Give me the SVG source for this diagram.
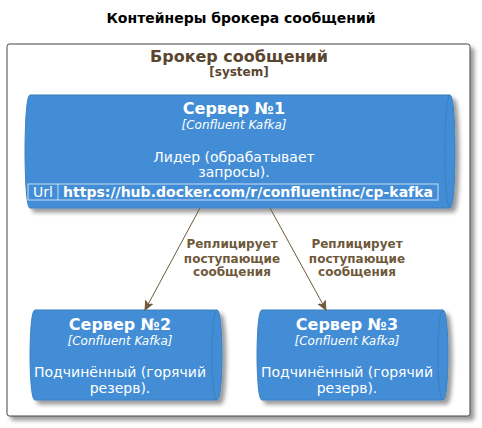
<svg xmlns="http://www.w3.org/2000/svg" width="482" height="428" viewBox="0 0 482 428">
<defs>
<filter id="sh" x="-10%" y="-10%" width="130%" height="130%">
<feGaussianBlur in="SourceAlpha" stdDeviation="2"/>
<feOffset dx="4" dy="4" result="b"/>
<feComponentTransfer><feFuncA type="linear" slope="0.4"/></feComponentTransfer>
<feMerge><feMergeNode/><feMergeNode in="SourceGraphic"/></feMerge>
</filter>
<marker id="ah" markerWidth="10" markerHeight="10" refX="9" refY="5" orient="auto" markerUnits="userSpaceOnUse">
<path d="M0,1 L9,5 L0,9 L3,5 Z" fill="#6e5a3a" stroke="#6e5a3a" stroke-width="1"/>
</marker>
<style>
text{font-family:"DejaVu Sans","Liberation Sans",sans-serif}
.q{fill:#438DD5;stroke:#3C7FC0;stroke-width:1}
.qi{fill:none;stroke:#3C7FC0;stroke-width:1}
.nt{fill:#FFFFFF;font-weight:bold;font-size:16px;text-anchor:middle}
.tt{fill:#FFFFFF;font-style:italic;font-size:12px;text-anchor:middle}
.dt{fill:#FFFFFF;font-size:14px;text-anchor:middle}
.lbl{fill:#6e5a3a;font-weight:bold;font-size:12px;text-anchor:middle}
.conn{stroke:#6e5a3a;stroke-width:1;fill:none}
</style>
</defs>
<rect width="482" height="428" fill="#FFFFFF"/>
<text x="241" y="23" font-size="14" font-weight="bold" text-anchor="middle" fill="#000000">Контейнеры брокера сообщений</text>
<g id="system">
<rect x="7" y="44" width="463" height="372" rx="2.5" ry="2.5" fill="#FFFFFF" stroke="#444444" stroke-width="1" filter="url(#sh)"/>
<text x="239" y="62" font-size="16" font-weight="bold" text-anchor="middle" fill="#5a4630">Брокер сообщений</text>
<text x="239" y="76" font-size="12" font-weight="bold" text-anchor="middle" fill="#5a4630">[system]</text>
</g>
<g id="server1">
<path class="q" filter="url(#sh)" d="M30,95 L450,95 C455,95 455,151.5 455,151.5 C455,151.5 455,208 450,208 L30,208 C25,208 25,151.5 25,151.5 C25,151.5 25,95 30,95 Z"/>
<path class="qi" d="M450,95 C445,95 445,151.5 445,151.5 C445,208 450,208 450,208"/>
<text class="nt" x="234" y="114">Сервер №1</text>
<text class="tt" x="234" y="129">[Confluent Kafka]</text>
<text class="dt" x="234" y="162">Лидер (обрабатывает</text>
<text class="dt" x="234" y="177">запросы).</text>
<rect x="28" y="184" width="410" height="16" fill="none" stroke="#FFFFFF" stroke-opacity="0.7" stroke-width="1"/>
<line x1="58" y1="184" x2="58" y2="200" stroke="#FFFFFF" stroke-opacity="0.7" stroke-width="1"/>
<text x="43" y="197" font-size="14" text-anchor="middle" fill="#FFFFFF">Url</text>
<text x="248" y="197" font-size="14" font-weight="bold" text-anchor="middle" fill="#FFFFFF" textLength="370" lengthAdjust="spacingAndGlyphs">https://hub.docker.com/r/confluentinc/cp-kafka</text>
</g>
<g id="server2">
<path class="q" filter="url(#sh)" d="M35,310 L217,310 C222,310 222,355 222,355 C222,355 222,400 217,400 L35,400 C30,400 30,355 30,355 C30,355 30,310 35,310 Z"/>
<path class="qi" d="M217,310 C212,310 212,355 212,355 C212,400 217,400 217,400"/>
<text class="nt" x="120" y="330">Сервер №2</text>
<text class="tt" x="120" y="345">[Confluent Kafka]</text>
<text class="dt" x="120" y="377">Подчинённый (горячий</text>
<text class="dt" x="120" y="393">резерв).</text>
</g>
<g id="server3">
<path class="q" filter="url(#sh)" d="M262,310 L443,310 C448,310 448,355 448,355 C448,355 448,400 443,400 L262,400 C257,400 257,355 257,355 C257,355 257,310 262,310 Z"/>
<path class="qi" d="M443,310 C438,310 438,355 438,355 C438,400 443,400 443,400"/>
<text class="nt" x="347" y="330">Сервер №3</text>
<text class="tt" x="347" y="345">[Confluent Kafka]</text>
<text class="dt" x="347" y="377">Подчинённый (горячий</text>
<text class="dt" x="347" y="393">резерв).</text>
</g>
<g id="connectors">
<path class="conn" d="M200,208 L145,310" marker-end="url(#ah)"/>
<path class="conn" d="M270,208 L326,310" marker-end="url(#ah)"/>
<text class="lbl" x="232" y="248">Реплицирует</text>
<text class="lbl" x="232" y="263">поступающие</text>
<text class="lbl" x="232" y="276">сообщения</text>
<text class="lbl" x="357" y="248">Реплицирует</text>
<text class="lbl" x="357" y="263">поступающие</text>
<text class="lbl" x="357" y="276">сообщения</text>
</g>
</svg>
